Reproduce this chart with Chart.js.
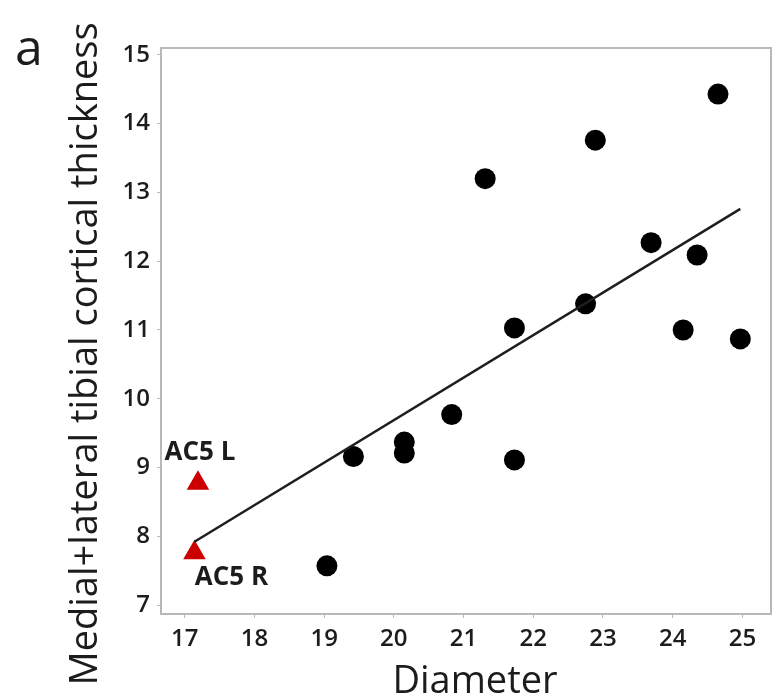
<!DOCTYPE html>
<html>
<head>
<meta charset="utf-8">
<script src="https://cdn.jsdelivr.net/npm/chart.js@4/dist/chart.umd.min.js"></script>
<style>
  html, body { margin: 0; padding: 0; background: #fff; }
  #wrap { width: 784px; height: 699px; }
</style>
</head>
<body>
<div id="wrap"><canvas id="scatterChart"></canvas></div>
<script>
const xTicks = [17, 18, 19, 20, 21, 22, 23, 24, 25];
const yTicks = [7, 8, 9, 10, 11, 12, 13, 14, 15];

const diameter  = [24.65, 22.89, 21.31, 23.69, 24.35, 22.75, 21.73, 24.15, 24.97, 20.83, 20.15, 20.15, 19.42, 21.73, 19.04];
const thickness = [14.43, 13.76, 13.20, 12.27, 12.09, 11.38, 11.03, 11.00, 10.87, 9.77, 9.37, 9.21, 9.16, 9.11, 7.57];

const ac5Labels    = ['AC5 L', 'AC5 R'];
const ac5Diameter  = [17.19, 17.14];
const ac5Thickness = [8.77, 7.76];

const fitDiameter  = [17.14, 24.97];
const fitThickness = [7.92, 12.76];

const textCol = '#1c1c1c';
const frameCol = '#b8b8b8';
const fontFam = "'Open Sans', sans-serif";

const toPoints = (xs, ys) => xs.map((x, i) => ({ x: x, y: ys[i] }));

// frame, panel letter, axis titles and the AC5 labels
const decor = {
    id: 'decor',
    beforeDatasetsDraw(chart) {
        const { ctx, chartArea: a } = chart;
        ctx.save();
        ctx.strokeStyle = frameCol;
        ctx.lineWidth = 2;
        ctx.strokeRect(a.left, a.top, a.right - a.left, a.bottom - a.top);
        ctx.restore();
    },
    afterDatasetsDraw(chart) {
        const ctx = chart.ctx;
        ctx.save();
        ctx.fillStyle = textCol;

        ctx.font = "50px " + fontFam;
        ctx.textAlign = 'center';
        ctx.textBaseline = 'alphabetic';
        ctx.fillText('a', 29, 65);

        ctx.font = "500 38px " + fontFam;
        ctx.fillText('Diameter', 475, 693);

        ctx.save();
        ctx.translate(97, 354);
        ctx.rotate(-Math.PI / 2);
        ctx.fillText('Medial+lateral tibial cortical thickness', 0, 0);
        ctx.restore();

        // AC5 labels placed next to their triangles
        const meta = chart.getDatasetMeta(2);
        const offsets = [[2, -31], [37, 25]];
        ctx.font = "bold 26px " + fontFam;
        ctx.textBaseline = 'middle';
        meta.data.forEach((pt, i) => {
            ctx.fillText(ac5Labels[i], pt.x + offsets[i][0], pt.y + offsets[i][1]);
        });
        ctx.restore();
    }
};

new Chart(document.getElementById('scatterChart'), {
    type: 'scatter',
    data: {
        datasets: [{
            type: 'line',
            label: 'Fit',
            data: toPoints(fitDiameter, fitThickness),
            borderColor: '#1e1e1e',
            borderWidth: 2.5,
            pointRadius: 0,
            fill: false
        }, {
            label: 'Specimens',
            data: toPoints(diameter, thickness),
            backgroundColor: '#000',
            borderWidth: 0,
            pointRadius: 10.5
        }, {
            label: 'AC5',
            data: toPoints(ac5Diameter, ac5Thickness),
            pointStyle: 'triangle',
            backgroundColor: '#cc0000',
            borderWidth: 0,
            pointRadius: 13
        }]
    },
    options: {
        responsive: true,
        maintainAspectRatio: false,
        animation: false,
        layout: { padding: { top: 48, right: 2, left: 0, bottom: 0 } },
        plugins: {
            legend: { display: false },
            tooltip: { enabled: false }
        },
        scales: {
            x: {
                type: 'linear',
                min: 16.66,
                max: 25.41,
                afterBuildTicks: s => { s.ticks = xTicks.map(v => ({ value: v })); },
                afterFit: s => { s.height = 85; },
                border: { display: false },
                grid: { drawOnChartArea: false, tickLength: 4, color: frameCol },
                ticks: { color: textCol, padding: 7, font: { family: fontFam, size: 24, weight: '600' } }
            },
            y: {
                type: 'linear',
                min: 6.87,
                max: 15.10,
                afterBuildTicks: s => { s.ticks = yTicks.map(v => ({ value: v })); },
                afterFit: s => { s.width = 161; },
                border: { display: false },
                grid: { drawOnChartArea: false, tickLength: 4, color: frameCol },
                ticks: { color: textCol, padding: 7, font: { family: fontFam, size: 24, weight: '600' } }
            }
        }
    },
    plugins: [decor]
});
</script>
</body>
</html>
